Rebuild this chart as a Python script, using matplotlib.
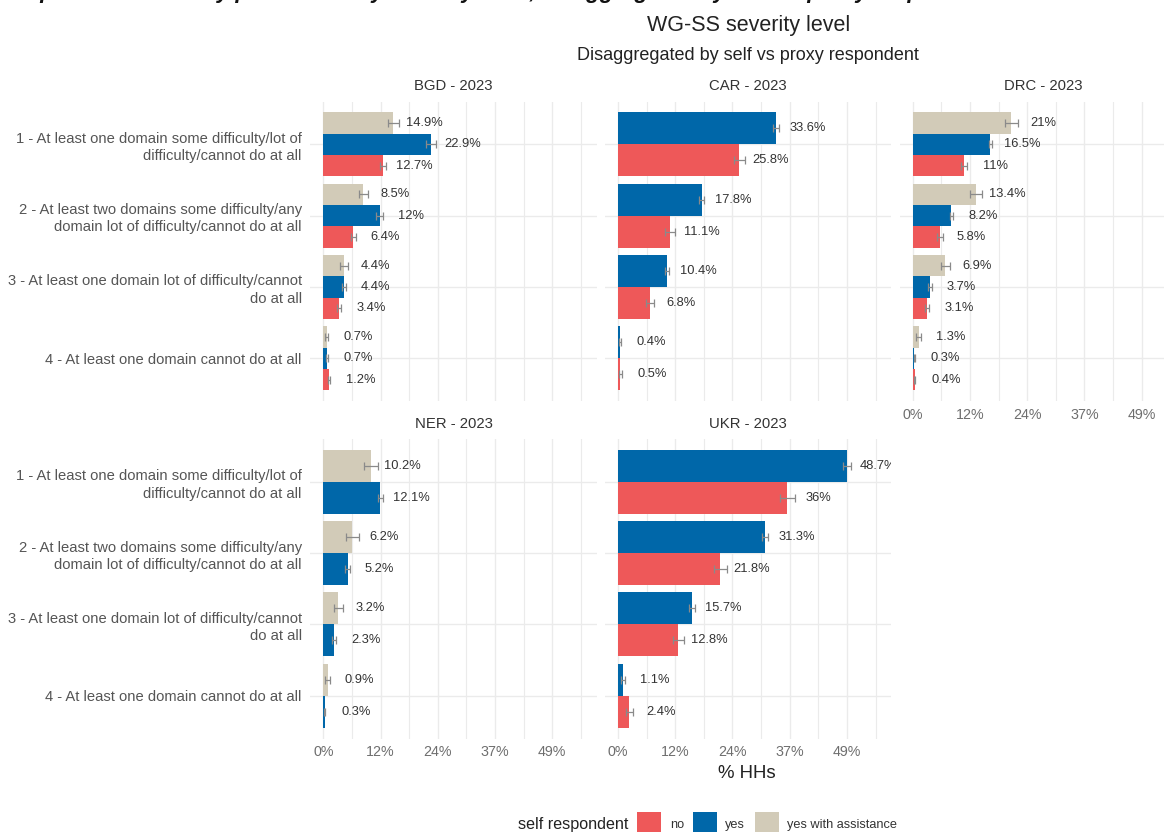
import numpy as np
import matplotlib
matplotlib.use("Agg")
import matplotlib.pyplot as plt
from matplotlib.patches import Rectangle

plt.rcParams['font.family'] = ['Liberation Sans', 'DejaVu Sans']

# ---------------- data ----------------
categories = [
    "1 - At least one domain some difficulty/lot of\ndifficulty/cannot do at all",
    "2 - At least two domains some difficulty/any\ndomain lot of difficulty/cannot do at all",
    "3 - At least one domain lot of difficulty/cannot\ndo at all",
    "4 - At least one domain cannot do at all",
]
groups = ["no", "yes", "yes with assistance"]
panel_titles = ["BGD - 2023", "CAR - 2023", "DRC - 2023", "NER - 2023", "UKR - 2023"]

bgd_no = [12.7, 6.4, 3.4, 1.2]
bgd_yes = [22.9, 12.0, 4.4, 0.7]
bgd_ywa = [14.9, 8.5, 4.4, 0.7]
car_no = [25.8, 11.1, 6.8, 0.5]
car_yes = [33.6, 17.8, 10.4, 0.4]
drc_no = [11.0, 5.8, 3.1, 0.4]
drc_yes = [16.5, 8.2, 3.7, 0.3]
drc_ywa = [21.0, 13.4, 6.9, 1.3]
ner_yes = [12.1, 5.2, 2.3, 0.3]
ner_ywa = [10.2, 6.2, 3.2, 0.9]
ukr_no = [36.0, 21.8, 12.8, 2.4]
ukr_yes = [48.7, 31.3, 15.7, 1.1]

# confidence-interval half widths (percentage points)
bgd_no_err = [0.6, 0.5, 0.4, 0.3]
bgd_yes_err = [1.1, 0.7, 0.5, 0.2]
bgd_ywa_err = [1.2, 1.0, 0.8, 0.3]
car_no_err = [1.2, 1.0, 0.75, 0.3]
car_yes_err = [0.7, 0.6, 0.5, 0.2]
drc_no_err = [0.65, 0.55, 0.45, 0.15]
drc_yes_err = [0.35, 0.35, 0.35, 0.1]
drc_ywa_err = [1.35, 1.25, 0.95, 0.55]
ner_yes_err = [0.5, 0.5, 0.35, 0.15]
ner_ywa_err = [1.5, 1.3, 1.0, 0.6]
ukr_no_err = [1.6, 1.45, 1.2, 0.7]
ukr_yes_err = [0.8, 0.7, 0.7, 0.4]

panel_data = [
    {"no": (bgd_no, bgd_no_err), "yes": (bgd_yes, bgd_yes_err), "yes with assistance": (bgd_ywa, bgd_ywa_err)},
    {"no": (car_no, car_no_err), "yes": (car_yes, car_yes_err)},
    {"no": (drc_no, drc_no_err), "yes": (drc_yes, drc_yes_err), "yes with assistance": (drc_ywa, drc_ywa_err)},
    {"yes": (ner_yes, ner_yes_err), "yes with assistance": (ner_ywa, ner_ywa_err)},
    {"no": (ukr_no, ukr_no_err), "yes": (ukr_yes, ukr_yes_err)},
]

colors = {"no": "#EE5859", "yes": "#0067A9", "yes with assistance": "#D2CBB8"}

# ---------------- layout ----------------
W, H = 1164, 832
fig = plt.figure(figsize=(W / 100, H / 100), dpi=100)

def fx(px):
    return px / W

def fy(py):
    return 1 - py / H

all_vals = bgd_no + bgd_yes + bgd_ywa + car_no + car_yes + drc_no + drc_yes + drc_ywa + ner_yes + ner_ywa + ukr_no + ukr_yes
vmax = max(all_vals)
label_nudge = 6.7
upper = vmax + label_nudge
xlim = (-0.05 * upper, 1.05 * upper)
major = vmax * np.linspace(0, 1, 5)
minor = (major[:-1] + major[1:]) / 2
minor = np.append(minor, major[-1] + (major[1] - major[0]) / 2)

col_left = [310.3, 605.0, 899.7]
panel_w = 286.4
row_top = [101.5, 439.0]
panel_h = 299.5
positions = [(0, 0), (0, 1), (0, 2), (1, 0), (1, 1)]
grid_col = "#EBEBEB"

for p, (r, c) in enumerate(positions):
    left = col_left[c]
    top = row_top[r]
    ax = fig.add_axes([fx(left), fy(top + panel_h), panel_w / W, panel_h / H])
    ax.set_xlim(*xlim)
    ax.set_ylim(len(categories) - 0.4, -0.6)
    for s in ax.spines.values():
        s.set_visible(False)
    for xv in minor:
        ax.axvline(xv, color=grid_col, lw=0.8, zorder=0)
    for xv in major:
        ax.axvline(xv, color=grid_col, lw=1.0, zorder=0)
    for yi in range(len(categories)):
        ax.axhline(yi, color=grid_col, lw=1.0, zorder=0)

    data = panel_data[p]
    present = [g for g in groups if g in data]
    n = len(present)
    bw = 0.9 / n
    y_base = np.arange(len(categories))
    for j, g in enumerate(present):
        vals, errs = data[g]
        ys = y_base + ((n - 1) / 2 - j) * bw
        ax.barh(ys, vals, height=bw, color=colors[g], edgecolor="none", zorder=2)
        ax.errorbar(vals, ys, xerr=errs, fmt="none", ecolor="#8A8A8A", elinewidth=0.9,
                    capsize=2.6, capthick=0.9, zorder=3)
        for v, yv in zip(vals, ys):
            ax.text(v + label_nudge, yv, f"{v:g}%", ha="center", va="center",
                    fontsize=9.3, color="#333333", clip_on=True, zorder=4)

    ax.set_title(panel_titles[p], fontsize=10.7, color="#333333", pad=8)
    ax.tick_params(length=0)
    ax.set_xticks(major)
    if (r == 0 and c == 2) or r == 1:
        ax.set_xticklabels([f"{m:.0f}%" for m in major], fontsize=10.3, color="#6E6E6E")
        ax.tick_params(axis="x", pad=5)
    else:
        ax.set_xticklabels([])
    ax.set_yticks(y_base)
    if c == 0:
        ax.set_yticklabels(categories, fontsize=10.6, color="#555555", linespacing=1.3)
        ax.tick_params(axis="y", pad=6.2)
    else:
        ax.set_yticklabels([])

# ---------------- titles ----------------
# report heading, cut off by the top edge of the image as in the reference
fig.text(fx(2), fy(-2.2), "Graph 4: Cross-study prevalence by severity level, disaggregated by self vs proxy respondent",
         fontsize=16, fontweight="bold", fontstyle="italic", color="#111111", ha="left", va="baseline")
fig.text(fx(749), fy(26), "WG-SS severity level", fontsize=15.5, color="#222222", ha="center", va="center")
fig.text(fx(748), fy(55), "Disaggregated by self vs proxy respondent", fontsize=13.0, color="#222222",
         ha="center", va="center")
fig.text(fx(747), fy(773), "% HHs", fontsize=13.4, color="#222222", ha="center", va="center")

# ---------------- legend ----------------
fig.text(fx(518), fy(824), "self respondent", fontsize=11.6, color="#222222", ha="left", va="center")
key_x = [637, 693, 755]
lab_x = [670, 725, 787]
for g, kx, lx in zip(groups, key_x, lab_x):
    fig.add_artist(Rectangle((fx(kx), fy(836)), 24 / W, 24 / H, transform=fig.transFigure,
                             facecolor=colors[g], edgecolor="none"))
    fig.text(fx(lx), fy(825), g, fontsize=9.2, color="#333333", ha="left", va="center")

fig.savefig("out.png", dpi=100)
